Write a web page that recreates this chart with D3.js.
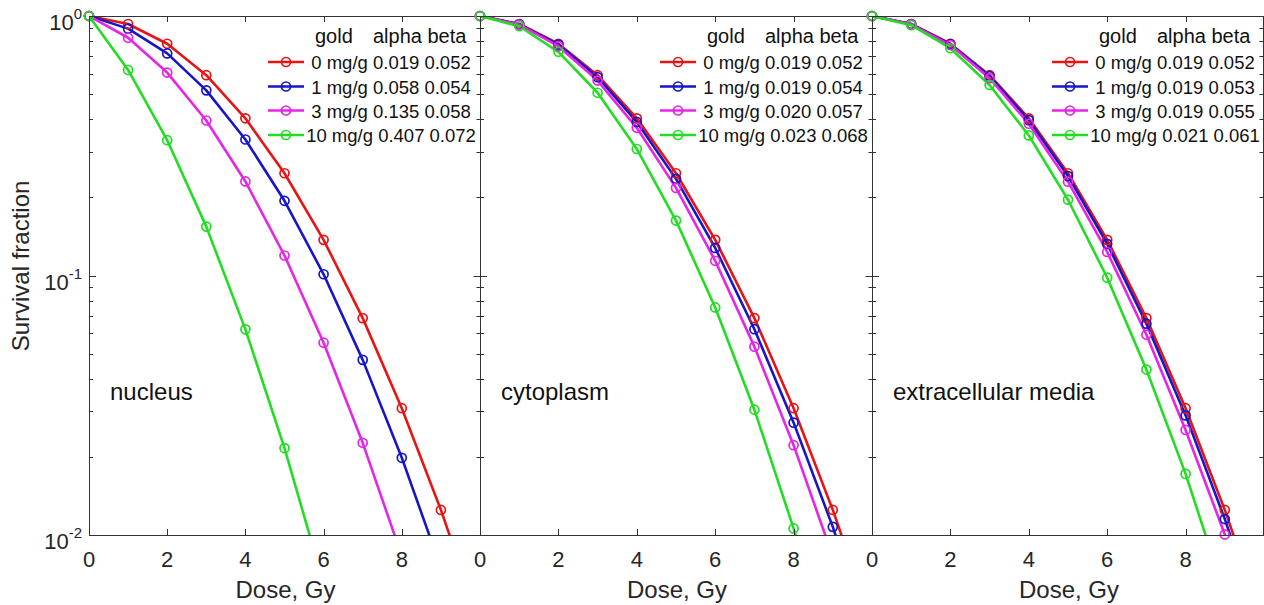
<!DOCTYPE html>
<html>
<head>
<meta charset="utf-8">
<script src="https://cdn.jsdelivr.net/npm/d3@7"></script>
<style>
  html, body { margin: 0; padding: 0; background: #fff; }
  svg { display: block; font-family: "Liberation Sans", Arial, sans-serif; }
</style>
</head>
<body>
<svg id="chart" width="1264" height="605"></svg>
<script>
// ---------- data ----------
const doses = [0, 1, 2, 3, 4, 5, 6, 7, 8, 9, 10];
const panelNames = ["nucleus", "cytoplasm", "extracellular media"];
const seriesGold = ["0 mg/g", "1 mg/g", "3 mg/g", "10 mg/g"];

// panel 1: nucleus
const nucleusAlpha = ["0.019", "0.058", "0.135", "0.407"];
const nucleusBeta  = ["0.052", "0.054", "0.058", "0.072"];
const nucleus0  = [1, 0.9315, 0.7819, 0.5916, 0.4033, 0.2478, 0.1372, 0.0685, 0.0308, 0.01249, 0.00456];
const nucleus1  = [1, 0.8940, 0.7175, 0.5169, 0.3342, 0.1940, 0.1011, 0.0473, 0.01984, 0.00748, 0.0025];
const nucleus3  = [1, 0.8245, 0.6053, 0.3957, 0.2304, 0.1194, 0.0551, 0.02266, 0.00830, 0.0027, 0.0007];
const nucleus10 = [1, 0.6194, 0.3322, 0.1543, 0.0620, 0.02161, 0.00651, 0.0017, 0.0004, 0.0001, 0.00002];

// panel 2: cytoplasm
const cytoAlpha = ["0.019", "0.019", "0.020", "0.023"];
const cytoBeta  = ["0.052", "0.054", "0.057", "0.068"];
const cyto0  = [1, 0.9315, 0.7819, 0.5916, 0.4033, 0.2478, 0.1372, 0.0685, 0.0308, 0.01249, 0.00456];
const cyto1  = [1, 0.9296, 0.7757, 0.5810, 0.3906, 0.2357, 0.1277, 0.0621, 0.0271, 0.01075, 0.00373];
const cyto3  = [1, 0.9259, 0.7649, 0.5638, 0.3708, 0.2176, 0.1140, 0.0532, 0.02219, 0.00826, 0.0027];
const cyto10 = [1, 0.9130, 0.7276, 0.5061, 0.3073, 0.1628, 0.0753, 0.0304, 0.01060, 0.00330, 0.0009];

// panel 3: extracellular media
const extraAlpha = ["0.019", "0.019", "0.019", "0.021"];
const extraBeta  = ["0.052", "0.053", "0.055", "0.061"];
const extra0  = [1, 0.9315, 0.7819, 0.5916, 0.4033, 0.2478, 0.1372, 0.0685, 0.0308, 0.01249, 0.00456];
const extra1  = [1, 0.9305, 0.7788, 0.5863, 0.3969, 0.2417, 0.1324, 0.0652, 0.0289, 0.01152, 0.00413];
const extra3  = [1, 0.9287, 0.7726, 0.5758, 0.3844, 0.2299, 0.1232, 0.0591, 0.0254, 0.01005, 0.00338];
const extra10 = [1, 0.9213, 0.7513, 0.5423, 0.3465, 0.1959, 0.0981, 0.0434, 0.01720, 0.00592, 0.0018];

const xTickValues = [0, 2, 4, 6, 8];
const yMajorTicks = [1, 0.1, 0.01];
const yTickExponents = ["0", "-1", "-2"];
const colors = ["#e81414", "#1616c8", "#e625e6", "#22dd22"];

const panels = [
  { name: panelNames[0], alpha: nucleusAlpha, beta: nucleusBeta, series: [nucleus0, nucleus1, nucleus3, nucleus10] },
  { name: panelNames[1], alpha: cytoAlpha, beta: cytoBeta, series: [cyto0, cyto1, cyto3, cyto10] },
  { name: panelNames[2], alpha: extraAlpha, beta: extraBeta, series: [extra0, extra1, extra3, extra10] }
];

// ---------- layout ----------
const svg = d3.select("#chart");
const plotTop = 16, plotBottom = 535;
const panelX = [[89, 480], [480, 872], [872, 1264]];
const axisColor = "#333";
const textColor = "#262626";

const y = d3.scaleLog().domain([0.01, 1]).range([plotBottom, plotTop]);
const yMinor = [];
[0.01, 0.1].forEach(dec => { for (let k = 2; k <= 9; k++) yMinor.push(dec * k); });

// y label
svg.append("text")
  .attr("transform", "translate(29,266) rotate(-90)")
  .attr("text-anchor", "middle")
  .attr("font-size", 24)
  .attr("fill", textColor)
  .text("Survival fraction");

// y tick labels (10^n)
yMajorTicks.forEach((v, i) => {
  const t = svg.append("text")
    .attr("x", 82)
    .attr("y", y(v) + 14)
    .attr("text-anchor", "end")
    .attr("font-size", 22)
    .attr("fill", textColor);
  t.append("tspan").text("10");
  t.append("tspan").attr("font-size", 15).attr("dy", -11).text(yTickExponents[i]);
});

panels.forEach((p, pi) => {
  const [x0, x1] = panelX[pi];
  const x = d3.scaleLinear().domain([0, 10]).range([x0, x1]);
  const g = svg.append("g");
  const clipId = "clip" + pi;
  svg.append("clipPath").attr("id", clipId)
    .append("rect").attr("x", x0).attr("y", plotTop).attr("width", x1 - x0).attr("height", plotBottom - plotTop);

  // series lines
  const line = d3.line().x((d, i) => x(doses[i])).y(d => y(Math.max(d, 1e-4)));
  p.series.forEach((s, si) => {
    g.append("path")
      .attr("d", line(s))
      .attr("fill", "none")
      .attr("stroke", colors[si])
      .attr("stroke-width", 2.6)
      .attr("stroke-linejoin", "round")
      .attr("clip-path", `url(#${clipId})`);
  });
  p.series.forEach((s, si) => {
    g.selectAll(null)
      .data(s.map((v, i) => ({ d: doses[i], v })).filter(o => o.v >= 0.01))
      .enter().append("circle")
      .attr("cx", o => x(o.d))
      .attr("cy", o => y(o.v))
      .attr("r", 4.5)
      .attr("fill", "none")
      .attr("stroke", colors[si])
      .attr("stroke-width", 1.7);
  });

  // frame
  const fr = svg.append("g").attr("stroke", axisColor).attr("stroke-width", 1).attr("fill", "none");
  const rx = Math.min(x1 + 0.5, 1263.5);
  fr.append("line").attr("x1", x0).attr("x2", x1).attr("y1", plotTop + 0.5).attr("y2", plotTop + 0.5);
  fr.append("line").attr("x1", x0).attr("x2", x1).attr("y1", plotBottom + 0.5).attr("y2", plotBottom + 0.5);
  fr.append("line").attr("x1", x0 + 0.5).attr("x2", x0 + 0.5).attr("y1", plotTop).attr("y2", plotBottom + 1);
  fr.append("line").attr("x1", rx).attr("x2", rx).attr("y1", plotTop).attr("y2", plotBottom + 1);

  // x ticks (inward, top and bottom)
  xTickValues.forEach(v => {
    const xx = Math.round(x(v)) + 0.5;
    fr.append("line").attr("x1", xx).attr("x2", xx).attr("y1", plotBottom).attr("y2", plotBottom - 6);
    fr.append("line").attr("x1", xx).attr("x2", xx).attr("y1", plotTop).attr("y2", plotTop + 6);
    svg.append("text")
      .attr("x", x(v)).attr("y", 567)
      .attr("text-anchor", "middle")
      .attr("font-size", 22)
      .attr("fill", textColor)
      .text(v);
  });
  // y ticks (inward, left and right)
  yMajorTicks.forEach(v => {
    const yy = Math.round(y(v)) + 0.5;
    fr.append("line").attr("x1", x0).attr("x2", x0 + 7).attr("y1", yy).attr("y2", yy);
    fr.append("line").attr("x1", rx).attr("x2", rx - 7).attr("y1", yy).attr("y2", yy);
  });
  yMinor.forEach(v => {
    const yy = Math.round(y(v)) + 0.5;
    fr.append("line").attr("x1", x0).attr("x2", x0 + 4).attr("y1", yy).attr("y2", yy);
    fr.append("line").attr("x1", rx).attr("x2", rx - 4).attr("y1", yy).attr("y2", yy);
  });

  // x label
  svg.append("text")
    .attr("x", (x0 + x1) / 2 + 1).attr("y", 598)
    .attr("text-anchor", "middle")
    .attr("font-size", 24)
    .attr("fill", textColor)
    .text("Dose, Gy");

  // panel name
  svg.append("text")
    .attr("x", x0 + 21).attr("y", 400)
    .attr("font-size", 24)
    .attr("fill", "#111")
    .text(p.name);

  // legend
  const R = x1;
  const lg = svg.append("g").attr("fill", "#111");
  lg.append("text").attr("x", R - 165).attr("y", 43).attr("font-size", 20).text("gold");
  lg.append("text").attr("x", R - 107).attr("y", 43).attr("font-size", 20).text("alpha beta");
  const rowY = [62, 86.5, 110.5, 135];
  seriesGold.forEach((lab, si) => {
    const cy = rowY[si];
    lg.append("line")
      .attr("x1", R - 212).attr("x2", R - 176)
      .attr("y1", cy).attr("y2", cy)
      .attr("stroke", colors[si]).attr("stroke-width", 2.6);
    lg.append("circle")
      .attr("cx", R - 194).attr("cy", cy).attr("r", 4.5)
      .attr("fill", "none").attr("stroke", colors[si]).attr("stroke-width", 1.7);
    lg.append("text")
      .attr("x", R - 89).attr("y", cy + 7)
      .attr("text-anchor", "middle")
      .attr("font-size", 18.5)
      .text(`${lab} ${p.alpha[si]} ${p.beta[si]}`);
  });
});
</script>
</body>
</html>
